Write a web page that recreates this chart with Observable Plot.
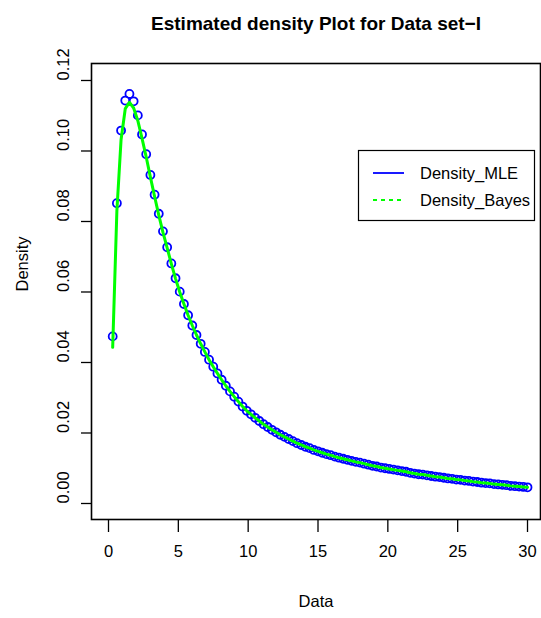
<!DOCTYPE html>
<html>
<head>
<meta charset="utf-8">
<script src="https://cdn.jsdelivr.net/npm/d3@7"></script>
<script src="https://cdn.jsdelivr.net/npm/@observablehq/plot@0.6"></script>
<style>
  html, body { margin: 0; padding: 0; background: #fff; }
  #chart { width: 541px; height: 618px; overflow: hidden; }
</style>
</head>
<body>
<div id="chart"></div>
<script>
// ---- Data ----
const xData = [
  0.3, 0.6, 0.9, 1.2, 1.5, 1.8, 2.1, 2.4, 2.7, 3.0,
  3.3, 3.6, 3.9, 4.2, 4.5, 4.8, 5.1, 5.4, 5.7, 6.0,
  6.3, 6.6, 6.9, 7.2, 7.5, 7.8, 8.1, 8.4, 8.7, 9.0,
  9.3, 9.6, 9.9, 10.2, 10.5, 10.8, 11.1, 11.4, 11.7, 12.0,
  12.3, 12.6, 12.9, 13.2, 13.5, 13.8, 14.1, 14.4, 14.7, 15.0,
  15.3, 15.6, 15.9, 16.2, 16.5, 16.8, 17.1, 17.4, 17.7, 18.0,
  18.3, 18.6, 18.9, 19.2, 19.5, 19.8, 20.1, 20.4, 20.7, 21.0,
  21.3, 21.6, 21.9, 22.2, 22.5, 22.8, 23.1, 23.4, 23.7, 24.0,
  24.3, 24.6, 24.9, 25.2, 25.5, 25.8, 26.1, 26.4, 26.7, 27.0,
  27.3, 27.6, 27.9, 28.2, 28.5, 28.8, 29.1, 29.4, 29.7, 30.0
];
const densityMLE = [
  0.0474, 0.0852, 0.1058, 0.1143, 0.1162, 0.1141, 0.1101, 0.1047, 0.0991, 0.0932,
  0.0876, 0.0822, 0.0772, 0.0727, 0.0681, 0.0639, 0.0601, 0.0566, 0.0534, 0.0505,
  0.0478, 0.0453, 0.0430, 0.0408, 0.0388, 0.0369, 0.0351, 0.0334, 0.0318, 0.0303,
  0.0289, 0.0275, 0.0263, 0.0253, 0.0243, 0.0234, 0.0225, 0.0217, 0.0209, 0.0202,
  0.0195, 0.0189, 0.0183, 0.0177, 0.0171, 0.0166, 0.0161, 0.0157, 0.0152, 0.0148,
  0.0144, 0.0140, 0.0137, 0.0133, 0.0130, 0.0127, 0.0124, 0.0121, 0.0118, 0.0116,
  0.0113, 0.0110, 0.0107, 0.0105, 0.0102, 0.0100, 0.0098, 0.0096, 0.0094, 0.0092,
  0.0090, 0.0087, 0.0085, 0.0083, 0.0082, 0.0080, 0.0078, 0.0076, 0.0075, 0.0073,
  0.0071, 0.0070, 0.0068, 0.0067, 0.0065, 0.0064, 0.0062, 0.0061, 0.0059, 0.0058,
  0.0057, 0.0055, 0.0054, 0.0053, 0.0052, 0.0050, 0.0049, 0.0048, 0.0047, 0.0046
];
const densityBayes = [
  0.0443, 0.0830, 0.1032, 0.1120, 0.1138, 0.1122, 0.1086, 0.1036, 0.0983, 0.0926,
  0.0871, 0.0818, 0.0769, 0.0725, 0.0680, 0.0638, 0.0600, 0.0566, 0.0534, 0.0505,
  0.0478, 0.0453, 0.0430, 0.0408, 0.0388, 0.0369, 0.0351, 0.0334, 0.0318, 0.0303,
  0.0289, 0.0275, 0.0263, 0.0253, 0.0243, 0.0234, 0.0225, 0.0217, 0.0209, 0.0202,
  0.0195, 0.0189, 0.0183, 0.0177, 0.0171, 0.0166, 0.0161, 0.0157, 0.0152, 0.0148,
  0.0144, 0.0140, 0.0137, 0.0133, 0.0130, 0.0127, 0.0124, 0.0121, 0.0118, 0.0116,
  0.0113, 0.0110, 0.0107, 0.0105, 0.0102, 0.0100, 0.0098, 0.0096, 0.0094, 0.0092,
  0.0090, 0.0087, 0.0085, 0.0083, 0.0082, 0.0080, 0.0078, 0.0076, 0.0075, 0.0073,
  0.0071, 0.0070, 0.0068, 0.0067, 0.0065, 0.0064, 0.0062, 0.0061, 0.0059, 0.0058,
  0.0057, 0.0055, 0.0054, 0.0053, 0.0052, 0.0050, 0.0049, 0.0048, 0.0047, 0.0046
];
const xTicks = [0, 5, 10, 15, 20, 25, 30];
const yTicks = [0.00, 0.02, 0.04, 0.06, 0.08, 0.10, 0.12];
const yTickLabels = ["0.00", "0.02", "0.04", "0.06", "0.08", "0.10", "0.12"];
const seriesNames = ["Density_MLE", "Density_Bayes"];
const seriesColors = ["#0000FF", "#00FF00"];
const titleText = "Estimated density Plot for Data set\u2212I";
const xLabel = "Data";
const yLabel = "Density";

// ---- Build tables ----
const mle = xData.map((x, i) => ({x, y: densityMLE[i]}));
const bayes = xData.map((x, i) => ({x, y: densityBayes[i]}));
const yTickTable = yTicks.map((v, i) => ({v, label: yTickLabels[i]}));

const FONT = "'Liberation Sans', Arial, Helvetica, sans-serif";

const chart = Plot.plot({
  width: 541,
  height: 618,
  marginLeft: 91,
  marginRight: 1,
  marginTop: 63,
  marginBottom: 99,
  style: {fontFamily: FONT, fontSize: "16px", background: "#fff", color: "#000", overflow: "visible"},
  x: {domain: [-1.217, 30.93]},
  y: {domain: [-0.00454, 0.12482]},
  marks: [
    Plot.axisX({ticks: xTicks, tickSize: 13, tickFormat: () => "", label: null, stroke: "#000", strokeWidth: 1.3}),
    Plot.axisY({ticks: yTicks, tickSize: 10, tickFormat: () => "", label: null, stroke: "#000", strokeWidth: 1.3}),
    Plot.text(xTicks, {x: d => d, text: d => String(d), frameAnchor: "bottom", dy: 37, fontSize: 16.5, fill: "#000"}),
    Plot.text(yTickTable, {y: "v", text: "label", frameAnchor: "left", dx: -28, rotate: -90, fontSize: 16.5, fill: "#000"}),
    Plot.text([xLabel], {text: d => d, frameAnchor: "bottom", dy: 87, fontSize: 16.5, fill: "#000"}),
    Plot.text([yLabel], {text: d => d, frameAnchor: "left", dx: -69, rotate: -90, fontSize: 16.5, fill: "#000"}),
    Plot.text([titleText], {text: d => d, frameAnchor: "top", dy: -47, fontSize: 19, fontWeight: "bold", fill: "#000"}),
    Plot.dot(mle, {x: "x", y: "y", r: 4, stroke: seriesColors[0], strokeWidth: 1.8, fill: "none"}),
    Plot.line(bayes, {x: "x", y: "y", stroke: seriesColors[1], strokeWidth: 3}),
    Plot.frame({stroke: "#000", strokeWidth: 1.6})
  ]
});
document.getElementById("chart").appendChild(chart);

// ---- Legend (R-style boxed legend, top right inside plot) ----
const svg = d3.select(chart);
const lg = svg.append("g").attr("font-family", FONT).attr("font-size", 16.5).attr("text-anchor", "start");
lg.append("rect").attr("x", 358.5).attr("y", 150.5).attr("width", 176).attr("height", 70)
  .attr("fill", "#fff").attr("stroke", "#000").attr("stroke-width", 1.2);
const rowsY = [173, 200];
seriesNames.forEach((name, i) => {
  lg.append("line").attr("x1", 373).attr("x2", 404).attr("y1", rowsY[i]).attr("y2", rowsY[i])
    .attr("stroke", seriesColors[i]).attr("stroke-width", 1.8)
    .attr("stroke-dasharray", i === 1 ? "4,4" : null);
  lg.append("text").attr("x", 420).attr("y", rowsY[i]).attr("dy", "0.35em")
    .attr("text-anchor", "start").attr("fill", "#000").text(name);
});
</script>
</body>
</html>
